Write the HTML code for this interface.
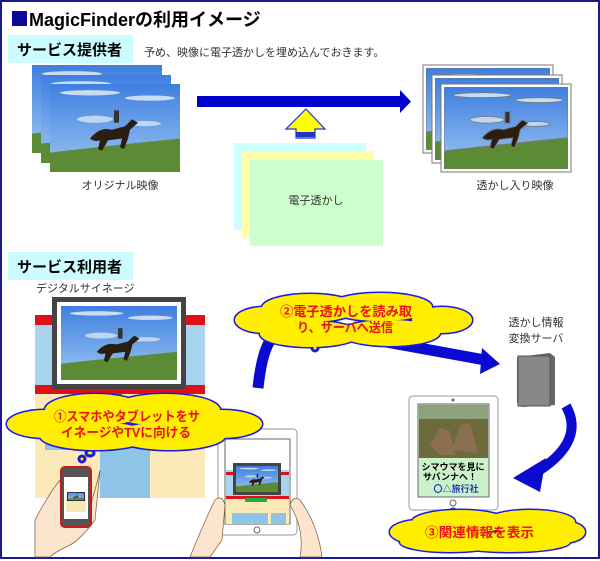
<!DOCTYPE html>
<html><head><meta charset="utf-8"><style>
html,body{margin:0;padding:0;background:#fff;}
svg{display:block;font-family:"Liberation Sans","Noto Sans CJK JP",sans-serif;}
</style></head><body>
<svg width="600" height="561" viewBox="0 0 600 561" xmlns="http://www.w3.org/2000/svg">
<defs>
<linearGradient id="sky" x1="0" y1="0" x2="0" y2="1"><stop offset="0" stop-color="#3f7fe0"/><stop offset="1" stop-color="#9cc6f2"/></linearGradient>
<symbol id="photo" viewBox="0 0 130 100" preserveAspectRatio="none">
<rect width="130" height="100" fill="url(#sky)"/>
<ellipse cx="40" cy="10" rx="30" ry="3" fill="#c8dcf4"/><ellipse cx="100" cy="16" rx="25" ry="3" fill="#c8dcf4"/>
<ellipse cx="45" cy="40" rx="18" ry="4" fill="#c0d6f0"/><ellipse cx="95" cy="45" rx="16" ry="3" fill="#c0d6f0"/>
<path d="M0 78 Q60 70 130 62 L130 100 L0 100Z" fill="#5d8a34"/>
<path d="M40 62 Q50 48 62 52 L75 48 L82 40 L88 44 L80 52 L78 62 L74 74 L70 72 L72 62 L58 64 L52 76 L48 74 L50 64 Q44 66 40 62Z" fill="#2a1d12"/>
<rect x="64" y="30" width="5" height="14" fill="#333"/>
</symbol>
</defs>
<rect x="1" y="1" width="598" height="557" fill="#fff" stroke="#1a1a8c" stroke-width="2"/>
<!-- title -->
<rect x="12" y="11" width="15" height="15" fill="#0a0a9a"/>
<text x="29" y="26" font-size="18" font-weight="bold" fill="#000">MagicFinderの利用イメージ</text>
<rect x="8" y="35" width="125" height="28" fill="#ccfcff"/>
<text x="17" y="55" font-size="15" font-weight="bold">サービス提供者</text>
<text x="144" y="56" font-size="11" fill="#333">予め、映像に電子透かしを埋め込んでおきます。</text>
<!-- left stack -->
<use href="#photo" x="32" y="65" width="130" height="88"/>
<use href="#photo" x="41" y="75" width="130" height="88"/>
<use href="#photo" x="50" y="84" width="130" height="88"/>
<text x="120" y="189" font-size="11" fill="#333" text-anchor="middle">オリジナル映像</text>
<!-- big blue arrow -->
<polygon points="197,96 400,96 400,90 411,101.5 400,113 400,107 197,107" fill="#0000cc"/>
<!-- yellow up arrow -->
<polygon points="306,109 325,129 315,129 315,138 296,138 296,129 286,129" fill="#ffff00" stroke="#2233dd" stroke-width="1.2"/>
<rect x="296" y="132" width="19" height="5" fill="#2233cc"/>
<!-- watermark cards -->
<rect x="234" y="143" width="132" height="87" fill="#ccffff"/>
<rect x="242" y="151" width="132" height="87" fill="#ffffaa"/>
<rect x="250" y="160" width="133" height="86" fill="#ccffcc"/>
<text x="316" y="204" font-size="11" fill="#333" text-anchor="middle">電子透かし</text>
<!-- right stack -->
<g fill="#fff" stroke="#777" stroke-width="1">
<rect x="423" y="65" width="130" height="88"/><use href="#photo" x="426" y="68" width="124" height="82"/>
<rect x="432" y="75" width="130" height="88"/><use href="#photo" x="435" y="78" width="124" height="82"/>
<rect x="441" y="84" width="130" height="88"/><use href="#photo" x="444" y="87" width="124" height="82"/>
</g>
<text x="515" y="189" font-size="11" fill="#333" text-anchor="middle">透かし入り映像</text>
<!-- user section -->
<rect x="8" y="252" width="125" height="28" fill="#ccfcff"/>
<text x="17" y="272" font-size="15" font-weight="bold">サービス利用者</text>
<text x="36" y="292" font-size="11" fill="#333">デジタルサイネージ</text>
<!-- store -->
<rect x="35" y="315" width="170" height="183" fill="#fbeab8"/>
<rect x="35" y="315" width="170" height="78" fill="#a8d4ee"/>
<rect x="35" y="315" width="170" height="10" fill="#e0101a"/>
<rect x="35" y="385" width="170" height="9" fill="#e0101a"/>
<rect x="82" y="394" width="40" height="6" fill="#22aa44"/>
<rect x="45" y="410" width="50" height="40" fill="#8ec4e8"/>
<rect x="100" y="410" width="50" height="88" fill="#8ec4e8"/>
<rect x="155" y="410" width="32" height="40" fill="#8ec4e8"/>
<rect x="52" y="297" width="134" height="92" fill="#444"/>
<rect x="57" y="302" width="124" height="82" fill="#fff"/>
<use href="#photo" x="61" y="306" width="116" height="74"/>
<!-- phone hand -->
<path d="M35 557 L35 520 Q48 495 60 480 L62 510 Q72 520 90 520 L92 500 Q98 480 100 470 L95 520 Q80 540 70 545 Q55 552 50 557Z" fill="#fde4cc" stroke="#7a5a40" stroke-width="0.7"/>
<rect x="60" y="466" width="32" height="62" rx="5" fill="#c31a1a"/>
<rect x="62" y="468" width="28" height="58" rx="4" fill="#555"/>
<rect x="64" y="477" width="24" height="42" fill="#fff"/>
<rect x="66" y="494" width="20" height="18" fill="#f6e7b8"/>
<rect x="67" y="492" width="18" height="9" fill="#333"/><use href="#photo" x="68" y="493" width="16" height="7"/>
<!-- tablet middle -->
<rect x="218" y="429" width="79" height="106" rx="4" fill="#fff" stroke="#999"/>
<rect x="225" y="439" width="65" height="85" fill="#fff" stroke="#666"/>
<rect x="226" y="470" width="63" height="30" fill="#a8d4ee"/>
<rect x="226" y="472" width="63" height="3" fill="#e0101a"/><rect x="226" y="496" width="63" height="3" fill="#e0101a"/>
<rect x="226" y="499" width="63" height="25" fill="#fbeab8"/>
<rect x="232" y="513" width="16" height="11" fill="#8ec4e8"/><rect x="248" y="513" width="20" height="11" fill="#8ec4e8"/><rect x="271" y="513" width="15" height="11" fill="#8ec4e8"/>
<rect x="245" y="498" width="22" height="4" fill="#22aa44"/>
<rect x="233" y="463" width="48" height="32" fill="#444"/><use href="#photo" x="236" y="466" width="42" height="26"/>
<circle cx="257" cy="530" r="3" fill="none" stroke="#666"/>
<path d="M190 557 Q205 520 215 500 Q222 494 225 505 L222 540 L210 557Z" fill="#fde4cc" stroke="#7a5a40" stroke-width="0.7"/>
<path d="M300 557 Q305 530 290 505 Q293 495 300 500 Q318 525 322 557Z" fill="#fde4cc" stroke="#7a5a40" stroke-width="0.7"/>
<!-- blue arrows middle -->
<path d="M258 388 Q262 350 272 338 L300 334" fill="none" stroke="#0a0ad0" stroke-width="11"/>
<path d="M375 340 L485 360" fill="none" stroke="#0a0ad0" stroke-width="11"/>
<polygon points="482,348 500,364 480,374" fill="#0a0ad0"/>
<!-- server -->
<text x="536" y="326" font-size="11" fill="#333" text-anchor="middle">透かし情報</text>
<text x="536" y="342" font-size="11" fill="#333" text-anchor="middle">変換サーバ</text>
<polygon points="517,357 550,353 555,357 555,405 522,407 517,403" fill="#666"/>
<rect x="518" y="356" width="32" height="50" fill="#888" stroke="#555"/>
<!-- right curved arrow -->
<path d="M566 406 Q585 440 540 470" fill="none" stroke="#0a0ad0" stroke-width="10"/>
<polygon points="546,458 540,492 513,478" fill="#0a0ad0"/>
<!-- right tablet -->
<rect x="409" y="396" width="89" height="114" rx="4" fill="#fff" stroke="#999"/>
<rect x="418" y="404" width="71" height="93" fill="#ccf2cc" stroke="#666"/>
<rect x="419" y="405" width="69" height="53" fill="#6d6a3c"/>
<rect x="419" y="405" width="69" height="14" fill="#8fa07c"/>
<path d="M430 445 L440 428 L450 431 L455 455 L440 455Z M452 450 L460 425 L470 423 L478 453Z" fill="#8a7050"/>
<text x="453" y="470" font-size="9" font-weight="bold" text-anchor="middle">シマウマを見に</text>
<text x="450" y="480" font-size="9" font-weight="bold" text-anchor="middle">サバンナへ！</text>
<text x="456" y="492" font-size="9" font-weight="bold" fill="#1a3ab0" text-anchor="middle">〇△旅行社</text>
<circle cx="453" cy="400" r="1.5" fill="#666"/><circle cx="453" cy="503" r="3" fill="none" stroke="#666"/>
<!-- clouds -->
<g stroke="#1a1ae0" stroke-width="3" fill="#ffee00">
 <ellipse cx="45" cy="424" rx="38" ry="14"/><ellipse cx="95" cy="410" rx="50" ry="16"/><ellipse cx="165" cy="410" rx="55" ry="16"/><ellipse cx="222" cy="424" rx="40" ry="14"/><ellipse cx="170" cy="436" rx="55" ry="14"/><ellipse cx="95" cy="436" rx="55" ry="14"/>
 <ellipse cx="90" cy="453" rx="4" ry="3"/><ellipse cx="82" cy="459" rx="3" ry="3"/>
 <ellipse cx="265" cy="320" rx="30" ry="13"/><ellipse cx="310" cy="308" rx="48" ry="14"/><ellipse cx="380" cy="307" rx="52" ry="14"/><ellipse cx="442" cy="320" rx="30" ry="13"/><ellipse cx="390" cy="333" rx="50" ry="13"/><ellipse cx="310" cy="334" rx="50" ry="13"/>
 <circle cx="315" cy="348" r="3"/>
 <ellipse cx="420" cy="532" rx="30" ry="12"/><ellipse cx="460" cy="522" rx="48" ry="12"/><ellipse cx="530" cy="522" rx="45" ry="12"/><ellipse cx="562" cy="532" rx="23" ry="11"/><ellipse cx="510" cy="542" rx="60" ry="10"/><ellipse cx="450" cy="542" rx="50" ry="10"/>
 <circle cx="453" cy="512" r="3"/>
</g>
<g fill="#ffee00">
 <ellipse cx="45" cy="424" rx="38" ry="14"/><ellipse cx="95" cy="410" rx="50" ry="16"/><ellipse cx="165" cy="410" rx="55" ry="16"/><ellipse cx="222" cy="424" rx="40" ry="14"/><ellipse cx="170" cy="436" rx="55" ry="14"/><ellipse cx="95" cy="436" rx="55" ry="14"/>
 <ellipse cx="265" cy="320" rx="30" ry="13"/><ellipse cx="310" cy="308" rx="48" ry="14"/><ellipse cx="380" cy="307" rx="52" ry="14"/><ellipse cx="442" cy="320" rx="30" ry="13"/><ellipse cx="390" cy="333" rx="50" ry="13"/><ellipse cx="310" cy="334" rx="50" ry="13"/>
 <ellipse cx="420" cy="532" rx="30" ry="12"/><ellipse cx="460" cy="522" rx="48" ry="12"/><ellipse cx="530" cy="522" rx="45" ry="12"/><ellipse cx="562" cy="532" rx="23" ry="11"/><ellipse cx="510" cy="542" rx="60" ry="10"/><ellipse cx="450" cy="542" rx="50" ry="10"/>
</g>
<g fill="#ee1111" font-weight="bold" font-size="13">
 <text x="54" y="421" textLength="146" lengthAdjust="spacingAndGlyphs">①スマホやタブレットをサ</text>
 <text x="61" y="437" textLength="130" lengthAdjust="spacingAndGlyphs">イネージやTVに向ける</text>
 <text x="280" y="316" textLength="132" lengthAdjust="spacingAndGlyphs">②電子透かしを読み取</text>
 <text x="297" y="332" textLength="96" lengthAdjust="spacingAndGlyphs">り、サーバへ送信</text>
 <text x="425" y="537" textLength="109" lengthAdjust="spacingAndGlyphs">③関連情報を表示</text>
</g>
</svg>
</body></html>
